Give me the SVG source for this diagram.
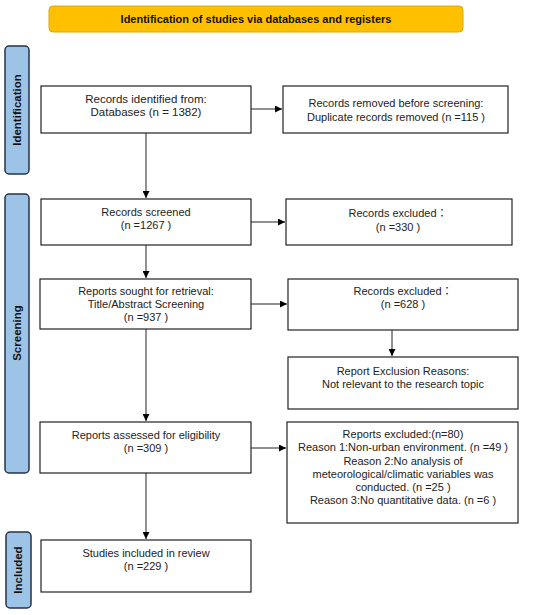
<svg xmlns="http://www.w3.org/2000/svg" width="550" height="615" viewBox="0 0 550 615">
<defs>
<marker id="ah" viewBox="0 0 10 10" refX="10" refY="5" markerWidth="7" markerHeight="7" markerUnits="userSpaceOnUse" orient="auto">
<path d="M0,0 L10,5 L0,10 z" fill="#000"/>
</marker>
</defs>
<style>
.box{fill:#fff;stroke:#222;stroke-width:1.2}
.t{font-family:"Liberation Sans",Arial,"Noto Sans CJK JP",sans-serif;font-size:11px;fill:#222;text-anchor:middle}
.side{fill:#9DC3E6;stroke:#243447;stroke-width:1.5}
.sl{font-family:"Liberation Sans",Arial,sans-serif;font-size:11.5px;font-weight:bold;fill:#111;text-anchor:middle}
.tt{font-family:"Liberation Sans",Arial,sans-serif;font-size:11px;font-weight:bold;fill:#111;text-anchor:middle}
.c{stroke:#222;stroke-width:1;fill:none;marker-end:url(#ah)}
</style>
<rect width="550" height="615" fill="#fff"/>
<g id="title">
<rect x="49" y="6" width="414" height="26" rx="4" fill="#FFC000" stroke="#E0A800" stroke-width="1"/>
<text class="tt" x="256" y="23">Identification of studies via databases and registers</text>
</g>
<g id="side-identification">
<rect class="side" x="5" y="46" width="24" height="128" rx="4"/>
<text class="sl" transform="translate(21,110) rotate(-90)">Identification</text>
</g>
<g id="side-screening">
<rect class="side" x="5" y="194" width="24" height="279" rx="4"/>
<text class="sl" transform="translate(21,333) rotate(-90)">Screening</text>
</g>
<g id="side-included">
<rect class="side" x="6" y="532" width="25" height="76" rx="4"/>
<text class="sl" transform="translate(22,570) rotate(-90)">Included</text>
</g>
<g id="n-identified">
<rect class="box" x="41" y="86" width="210" height="47"/>
<text class="t" x="146" y="102.5" style="font-size:11.5px">Records identified from:</text>
<text class="t" x="146" y="115.5" style="font-size:11.5px">Databases (n = 1382)</text>
</g>
<g id="n-removed">
<rect class="box" x="283" y="86" width="225" height="47"/>
<text class="t" x="396" y="107">Records removed before screening:</text>
<text class="t" x="396" y="120.5">Duplicate records removed  (n =115 )</text>
</g>
<g id="n-screened">
<rect class="box" x="41" y="199" width="210" height="46"/>
<text class="t" x="146" y="215.5">Records screened</text>
<text class="t" x="146" y="229">(n =1267 )</text>
</g>
<g id="n-excl330">
<rect class="box" x="286" y="199" width="226" height="46"/>
<text class="t" x="398" y="216.5">Records excluded：</text>
<text class="t" x="398" y="230.5">(n =330 )</text>
</g>
<g id="n-sought">
<rect class="box" x="40" y="279" width="211" height="50"/>
<text class="t" x="146" y="295">Reports sought for retrieval:</text>
<text class="t" x="146" y="308">Title/Abstract Screening</text>
<text class="t" x="146" y="321">(n =937 )</text>
</g>
<g id="n-excl628">
<rect class="box" x="288" y="279" width="230" height="51"/>
<text class="t" x="403" y="295">Records excluded：</text>
<text class="t" x="403" y="308">(n =628 )</text>
</g>
<g id="n-reasons">
<rect class="box" x="288" y="357" width="230" height="52"/>
<text class="t" x="403" y="375">Report Exclusion Reasons:</text>
<text class="t" x="403" y="388">Not relevant to the research topic</text>
</g>
<g id="n-assessed">
<rect class="box" x="40" y="422" width="211" height="51"/>
<text class="t" x="146" y="438.5">Reports assessed for eligibility</text>
<text class="t" x="146" y="451.5">(n =309 )</text>
</g>
<g id="n-excl80">
<rect class="box" x="287" y="422" width="231" height="101"/>
<text class="t" x="403" y="438">Reports excluded:(n=80)</text>
<text class="t" x="403" y="451">Reason 1:Non-urban environment. (n =49 )</text>
<text class="t" x="403" y="464.5">Reason 2:No analysis of</text>
<text class="t" x="403" y="478">meteorological/climatic variables was</text>
<text class="t" x="403" y="491">conducted. (n =25 )</text>
<text class="t" x="403" y="504">Reason 3:No quantitative data. (n =6 )</text>
</g>
<g id="n-included">
<rect class="box" x="41" y="540" width="210" height="52"/>
<text class="t" x="146" y="556.5">Studies included in review</text>
<text class="t" x="146" y="569.5">(n =229 )</text>
</g>
<g id="connectors">
<line class="c" x1="251" y1="109" x2="282" y2="109"/>
<line class="c" x1="146" y1="133" x2="146" y2="198"/>
<line class="c" x1="251" y1="222" x2="285" y2="222"/>
<line class="c" x1="146" y1="245" x2="146" y2="278"/>
<line class="c" x1="251" y1="304" x2="287" y2="304"/>
<line class="c" x1="392" y1="330" x2="392" y2="356"/>
<line class="c" x1="146" y1="329" x2="146" y2="421"/>
<line class="c" x1="251" y1="448" x2="286" y2="448"/>
<line class="c" x1="146" y1="473" x2="146" y2="539"/>
</g>
</svg>
